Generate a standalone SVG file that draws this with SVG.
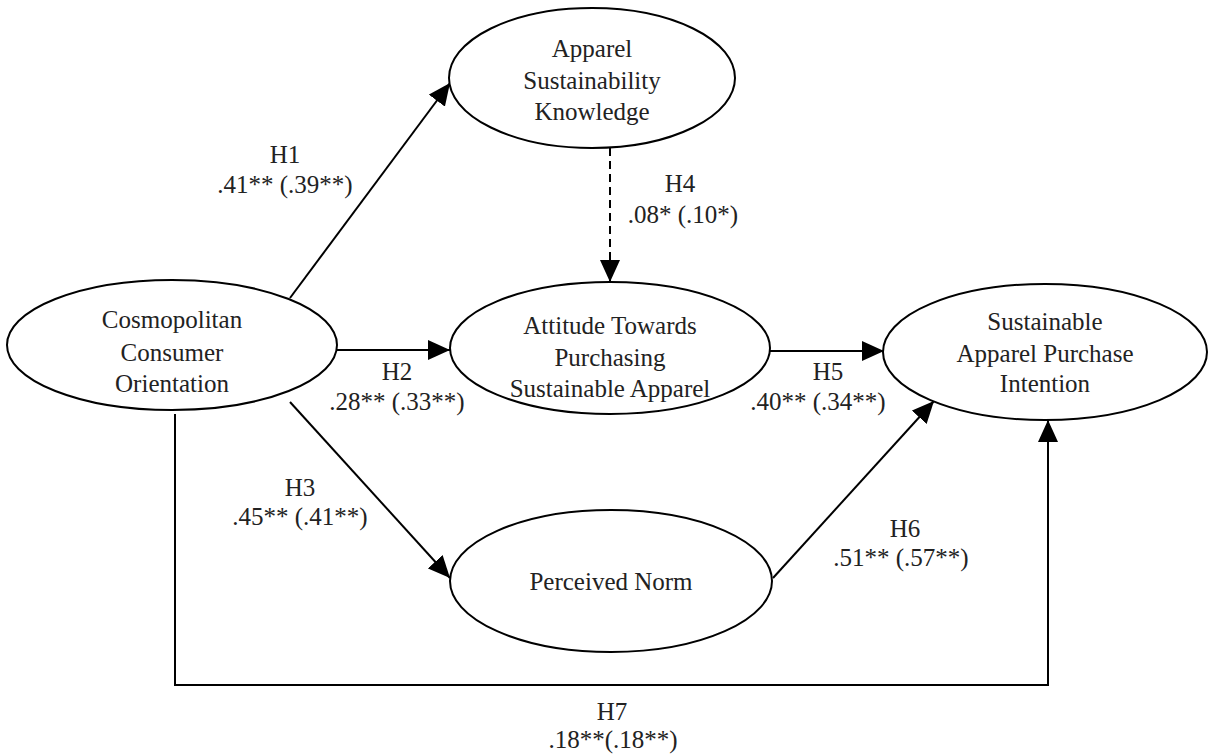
<svg xmlns="http://www.w3.org/2000/svg" width="1209" height="755" viewBox="0 0 1209 755">
<defs>
<style>
.node ellipse{fill:#fff;stroke:#000;stroke-width:2}
text{font-family:"Liberation Serif","Times New Roman",serif;font-size:25px;fill:#222;text-anchor:middle}
.conn line,.conn polyline{stroke:#000;stroke-width:2;fill:none}
.dash{stroke-dasharray:8 5}
</style>
<marker id="arr" markerUnits="userSpaceOnUse" markerWidth="22" markerHeight="20" refX="22" refY="10" orient="auto">
<path d="M0,0 L22,10 L0,20 z" fill="#000"/>
</marker>
</defs>
<rect width="1209" height="755" fill="#fff"/>
<g id="connectors" class="conn">
<line x1="290" y1="298" x2="450" y2="83" marker-end="url(#arr)"/>
<line x1="337" y1="350" x2="450" y2="350" marker-end="url(#arr)"/>
<line class="dash" x1="610" y1="148" x2="610" y2="282" marker-end="url(#arr)"/>
<line x1="770" y1="351" x2="884" y2="351" marker-end="url(#arr)"/>
<line x1="290" y1="402" x2="450" y2="578" marker-end="url(#arr)"/>
<line x1="773" y1="578" x2="934" y2="401" marker-end="url(#arr)"/>
<polyline points="175,414 175,685 1048,685 1048,420" marker-end="url(#arr)"/>
</g>
<g id="labels">
<text x="285" y="163">H1</text><text x="285" y="193">.41** (.39**)</text>
<text x="680" y="192">H4</text><text x="683" y="223">.08* (.10*)</text>
<text x="397" y="380">H2</text><text x="397" y="410">.28** (.33**)</text>
<text x="828" y="380">H5</text><text x="818" y="410">.40** (.34**)</text>
<text x="300" y="496">H3</text><text x="300" y="525">.45** (.41**)</text>
<text x="905" y="537">H6</text><text x="901" y="566">.51** (.57**)</text>
<text x="612" y="720">H7</text><text x="613" y="748">.18**(.18**)</text>
</g>
<g id="knowledge" class="node">
<ellipse cx="592" cy="78" rx="143" ry="70"/>
<text x="592" y="57">Apparel</text><text x="592" y="89">Sustainability</text><text x="592" y="120">Knowledge</text>
</g>
<g id="cosmopolitan" class="node">
<ellipse cx="172" cy="345" rx="165" ry="65"/>
<text x="172" y="328">Cosmopolitan</text><text x="172" y="361">Consumer</text><text x="172" y="392">Orientation</text>
</g>
<g id="attitude" class="node">
<ellipse cx="610" cy="348" rx="160" ry="66"/>
<text x="610" y="334">Attitude Towards</text><text x="610" y="366">Purchasing</text><text x="610" y="397">Sustainable Apparel</text>
</g>
<g id="intention" class="node">
<ellipse cx="1045" cy="352" rx="162" ry="68"/>
<text x="1045" y="330">Sustainable</text><text x="1045" y="362">Apparel Purchase</text><text x="1045" y="392">Intention</text>
</g>
<g id="norm" class="node">
<ellipse cx="611" cy="581" rx="161" ry="71"/>
<text x="611" y="590">Perceived Norm</text>
</g>
</svg>
